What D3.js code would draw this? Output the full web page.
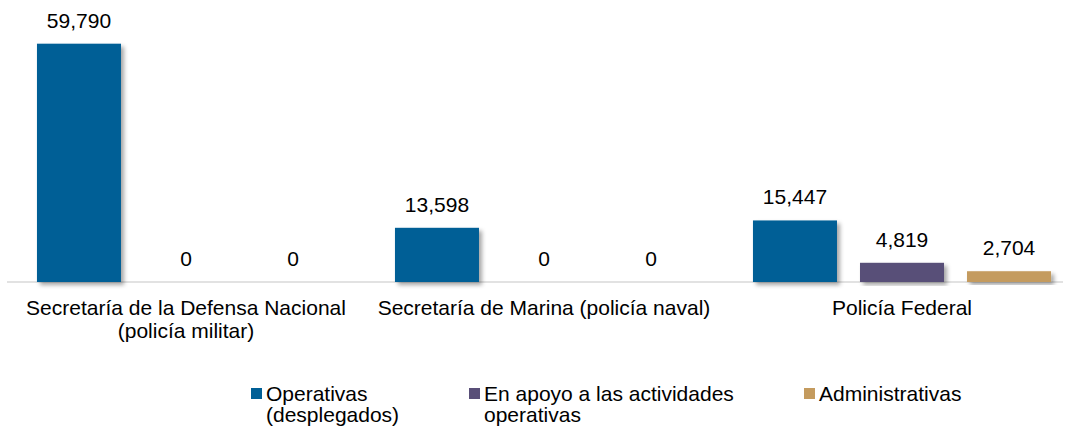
<!doctype html>
<html lang="es">
  <head>
    <meta charset="utf-8">
    <script src="https://cdn.jsdelivr.net/npm/d3@7"></script>
    <style>
      body { margin:0; background:#fff; font-family: "Liberation Sans", Arial, sans-serif }
      svg { display:block }
      text { fill:#000; font-size:21px }
    </style>
    <title>Elementos por dependencia</title>
  </head>
  <body>
    <script>
      // categories (each label split in lines)
      const categories = ["Secretaría de la Defensa Nacional|(policía militar)",
                          "Secretaría de Marina (policía naval)",
                          "Policía Federal"];
      const seriesNames = ["Operativas|(desplegados)",
                           "En apoyo a las actividades|operativas",
                           "Administrativas"];
      const operativas = [59790, 13598, 15447];
      const apoyo = [0, 0, 4819];
      const administrativas = [0, 0, 2704];
      const colors = ["#005f96", "#594f78", "#c49b5e"];

      const W = 1070, H = 427;
      const baseY = 282;

      let svg = d3.select("body").append("svg")
        .attr("width", W)
        .attr("height", H);

      // soft shadow like the office chart
      let filter = svg.append("defs").append("filter")
        .attr("id", "shadow")
        .attr("x", "-10%").attr("y", "-10%")
        .attr("width", "130%").attr("height", "130%");
      filter.append("feDropShadow")
        .attr("dx", 3).attr("dy", 3)
        .attr("stdDeviation", 2)
        .attr("flood-color", "#000")
        .attr("flood-opacity", 0.35);

      let x0 = d3.scaleBand()
        .domain(categories)
        .range([7, 1081]);

      let x1 = d3.scaleBand()
        .domain(d3.range(3))
        .range([0, x0.bandwidth()])
        .paddingInner(0.215)
        .paddingOuter(0.28);

      let y = d3.scaleLinear()
        .domain([0, 70000])
        .range([baseY, 3]);

      let data = [];
      categories.forEach((c, i) => {
        [operativas[i], apoyo[i], administrativas[i]].forEach((v, s) => {
          data.push({cat: c, s: s, v: v});
        });
      });

      // axis line
      svg.append("line")
        .attr("x1", 7).attr("x2", 1063)
        .attr("y1", baseY).attr("y2", baseY)
        .attr("stroke", "#d9d9d9")
        .attr("stroke-width", 1.5);

      svg.append("g").selectAll("rect")
        .data(data.filter(d => d.v > 0))
        .enter()
        .append("rect")
        .attr("x", d => x0(d.cat) + x1(d.s))
        .attr("y", d => y(d.v))
        .attr("width", x1.bandwidth())
        .attr("height", d => baseY - y(d.v))
        .attr("fill", d => colors[d.s])
        .attr("filter", "url(#shadow)");

      svg.append("g").selectAll("text")
        .data(data)
        .enter()
        .append("text")
        .attr("x", d => x0(d.cat) + x1(d.s) + x1.bandwidth() / 2)
        .attr("y", d => y(d.v) - 16)
        .attr("text-anchor", "middle")
        .text(d => d3.format(",")(d.v));

      // category labels
      let catLabels = svg.append("g").selectAll("text")
        .data(categories)
        .enter()
        .append("text")
        .attr("text-anchor", "middle")
        .attr("y", 315);
      catLabels.selectAll("tspan")
        .data(c => c.split("|").map(t => ({t: t, c: c})))
        .enter()
        .append("tspan")
        .attr("x", d => x0(d.c) + x0.bandwidth() / 2)
        .attr("dy", (d, i) => i == 0 ? 0 : 23)
        .text(d => d.t);

      // legend
      const legendX = [251, 469, 804];
      let legend = svg.append("g").selectAll("g")
        .data(seriesNames)
        .enter()
        .append("g")
        .attr("transform", (d, i) => "translate(" + legendX[i] + ",0)");
      legend.append("rect")
        .attr("y", 388)
        .attr("width", 11)
        .attr("height", 11)
        .attr("fill", (d, i) => colors[i]);
      legend.append("text")
        .attr("y", 401)
        .selectAll("tspan")
        .data(d => d.split("|"))
        .enter()
        .append("tspan")
        .attr("x", 15)
        .attr("dy", (d, i) => i == 0 ? 0 : 21)
        .text(d => d);
    </script>
  </body>
</html>
